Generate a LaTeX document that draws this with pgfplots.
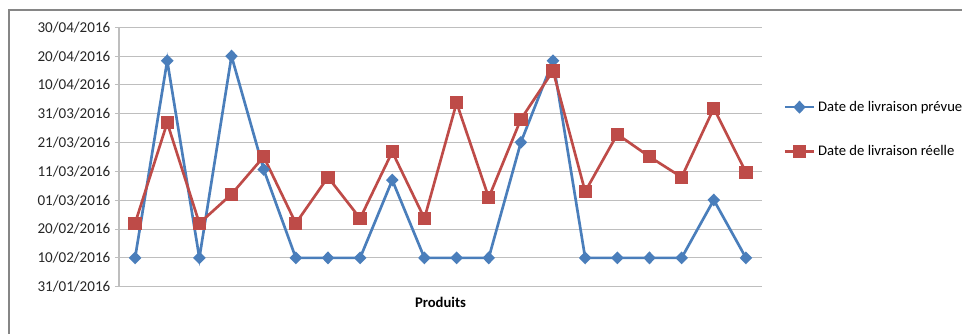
\documentclass[border=0pt]{standalone}
\usepackage{pgfplots}
\pgfplotsset{compat=1.18}
\usepackage{fontspec}
\setmainfont{Carlito}
\definecolor{bl}{RGB}{74,126,187}
\definecolor{rd}{RGB}{190,75,72}
\definecolor{gridc}{RGB}{190,190,190}
\definecolor{framec}{RGB}{134,134,134}
\begin{document}
\begin{tikzpicture}[x=0.75pt,y=0.75pt]
\useasboundingbox (-119,-46.3) rectangle (843,286.7);
\draw[framec, line width=1.2pt] (-110,-50) -- (-110,276.7) -- (850,276.7);
\begin{axis}[
  at={(0,0)}, anchor=south west,
  scale only axis, width=482.25pt, height=194.55pt,
  xmin=0.5, xmax=20.5, ymin=0, ymax=90,
  xtick=\empty,
  ytick={0,10,...,90},
  yticklabels={31/01/2016,10/02/2016,20/02/2016,01/03/2016,11/03/2016,21/03/2016,31/03/2016,10/04/2016,20/04/2016,30/04/2016},
  ymajorgrids, grid style={gridc, line width=0.75pt},
  axis x line=bottom, axis y line=left,
  axis line style={-, gridc, line width=0.75pt},
  tick align=outside, major tick length=3pt,
  ytick style={gridc, line width=0.75pt},
  yticklabel style={font=\fontsize{11.3}{13}\selectfont, text=black!85},
  xlabel={\textbf{Produits}},
  xlabel style={at={(axis description cs:0.5,0)}, anchor=north, inner sep=0pt, yshift=-8pt, font=\fontsize{11}{13}\selectfont},
  legend style={at={(1.033,0.727)}, anchor=north west, draw=none, fill=none, inner sep=0pt,
    font=\fontsize{11}{13}\selectfont, row sep=20pt, nodes={inner xsep=2pt}},
  legend cell align=left,
  legend image code/.code={\draw[mark repeat=2,mark phase=2] plot coordinates {(0pt,0pt)(11pt,0pt)(22pt,0pt)};},
]
\addplot[bl, line width=2pt, mark=diamond*, mark size=3.4pt, mark options={xscale=1.3, solid}] coordinates {
(1,10) (2,78.4) (3,10) (4,80) (5,40.7) (6,10) (7,10) (8,10) (9,37) (10,10)
(11,10) (12,10) (13,50.1) (14,78.4) (15,10) (16,10) (17,10) (18,10) (19,30.1) (20,10)};
\addlegendentry{Date de livraison prévue}
\addplot[rd, line width=2pt, mark=square*, mark size=4pt, mark options={solid}] coordinates {
(1,22) (2,56.9) (3,22) (4,32.1) (5,45.1) (6,22) (7,38) (8,23.7) (9,46.8) (10,23.7)
(11,63.8) (12,30.9) (13,58.1) (14,74.9) (15,33) (16,52.9) (17,45.1) (18,38) (19,61.9) (20,39.7)};
\addlegendentry{Date de livraison réelle}
\end{axis}
\end{tikzpicture}
\end{document}
